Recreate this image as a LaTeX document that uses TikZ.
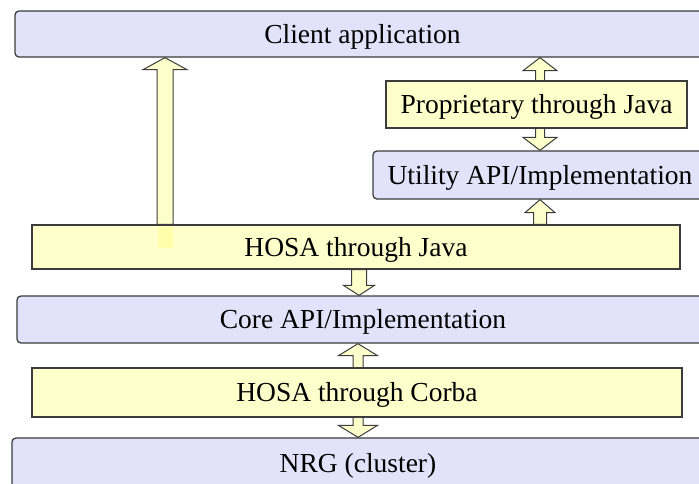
\documentclass[tikz,border=0pt]{standalone}
\usepackage{fontspec}
\setmainfont{Liberation Serif}
\usetikzlibrary{calc,backgrounds}
\definecolor{blueF}{RGB}{226,226,250}
\definecolor{yelF}{RGB}{255,255,204}
\definecolor{smudge}{RGB}{255,255,170}
\definecolor{edge}{RGB}{60,60,60}
\tikzset{
  boxbase/.style={draw=edge, line width=1.3pt, inner sep=0pt, anchor=center,
    text height=18pt, text depth=0pt,
    font=\fontsize{27.5}{32}\selectfont, text=black},
  bluebox/.style={boxbase, fill=blueF, rounded corners=4pt},
  yelbox/.style={boxbase, fill=yelF},
  blockarr/.style={draw=edge, line width=1pt, fill=yelF, line join=miter}
}
% single block arrow: #1 start, #2 end, #3 shaft half width, #4 head half width, #5 head length
\newcommand\blkarrow[5]{%
  \draw[blockarr] let \p1=(#1), \p2=(#2), \n1={sign(\y2-\y1)} in
    ({\x1-#3},\y1) -- ({\x1-#3},{\y2-\n1*#5}) -- ({\x1-#4},{\y2-\n1*#5}) --
    (\x1,\y2) -- ({\x1+#4},{\y2-\n1*#5}) -- ({\x1+#3},{\y2-\n1*#5}) --
    ({\x1+#3},\y1) -- cycle;}
% double block arrow
\newcommand\dblarrow[5]{%
  \draw[blockarr] let \p1=(#1), \p2=(#2), \n1={sign(\y2-\y1)} in
    (\x1,\y1) -- ({\x1-#4},{\y1+\n1*#5}) -- ({\x1-#3},{\y1+\n1*#5}) --
    ({\x1-#3},{\y2-\n1*#5}) -- ({\x1-#4},{\y2-\n1*#5}) --
    (\x1,\y2) -- ({\x1+#4},{\y2-\n1*#5}) -- ({\x1+#3},{\y2-\n1*#5}) --
    ({\x1+#3},{\y1+\n1*#5}) -- ({\x1+#4},{\y1+\n1*#5}) -- cycle;}
\begin{document}
\begin{tikzpicture}[x=1pt,y=-1pt]
\useasboundingbox (0,0) rectangle (699,483);
% boxes
\node[bluebox, minimum width=695pt, minimum height=46pt] (client) at (362.5,34) {Client application};
\node[yelbox, minimum width=301pt, minimum height=47pt] (prop) at (536.5,104.5) {Proprietary through Java};
\node[bluebox, minimum width=334pt, minimum height=48pt] (util) at (540,175) {Utility API/Implementation};
\node[yelbox, minimum width=648pt, minimum height=44pt] (hosaj) at (356,247) {HOSA through Java};
\node[bluebox, minimum width=692pt, minimum height=47pt] (core) at (363,319.5) {Core API/Implementation};
\node[yelbox, minimum width=650pt, minimum height=49pt] (corba) at (357,392.5) {HOSA through Corba};
\node[bluebox, minimum width=692pt, minimum height=50pt] (nrg) at (358,463) {NRG (cluster)};
% arrow axes
\coordinate (ax1) at (165,0);
\coordinate (ax2) at (540,0);
\coordinate (ax4) at (359,0);
\coordinate (ax5) at (358,0);
\begin{pgfonlayer}{background}
\fill[white] (0,0) rectangle (699,483);
\dblarrow{ax2 |- client.south}{ax2 |- util.north}{4.5pt}{17pt}{13pt}
\dblarrow{ax5 |- core.south}{ax5 |- nrg.north}{5pt}{19.5pt}{12pt}
\end{pgfonlayer}
\blkarrow{ax1 |- hosaj.north}{ax1 |- client.south}{8pt}{22pt}{12pt}
\blkarrow{ax2 |- hosaj.north}{ax2 |- util.south}{6.5pt}{15pt}{13pt}
\blkarrow{ax4 |- hosaj.south}{ax4 |- core.north}{7.5pt}{15.5pt}{10pt}
\fill[smudge] (158,226.5) rectangle (173,248);
\end{tikzpicture}
\end{document}
